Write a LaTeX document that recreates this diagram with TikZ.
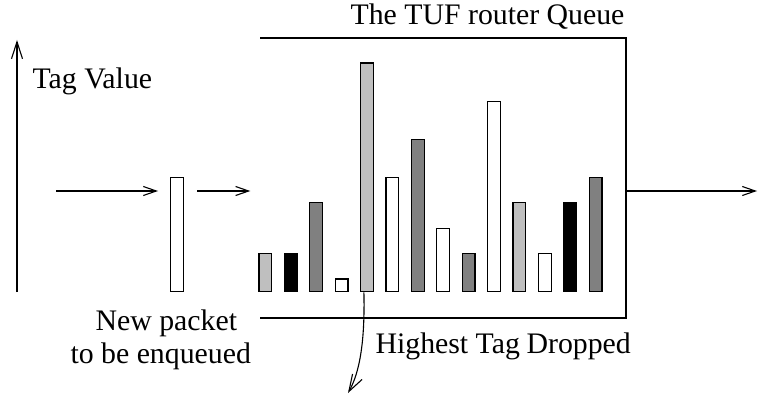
\documentclass[tikz,border=0pt]{standalone}
\usepackage{fontspec}
\setmainfont{Liberation Serif}
\usetikzlibrary{arrows.meta}
\definecolor{barlight}{gray}{0.75}
\definecolor{bardark}{gray}{0.5}

\begin{document}
\begin{tikzpicture}[x=0.5pt,y=-0.5pt,line width=0.55pt,
    font=\fontsize{14.9}{18}\selectfont,
    lbl/.style={inner sep=0pt},
    bar/.style={draw,line width=0.6pt,inner sep=0pt,anchor=south west,
      minimum width=6.4pt,minimum height=#1*6.35pt},
    flow/.style={-{Straight Barb[length=6.5pt,width=4.5pt]}},
    bigflow/.style={-{Straight Barb[length=8.5pt,width=5.5pt]}}]
  \useasboundingbox (0,0) rectangle (758,395);

  \coordinate (axlo) at (17,292);
  \coordinate (axhi) at (17,40);
  \draw[bigflow] (axlo) -- (axhi);
  \node[lbl,anchor=base west] (tagval) at (32,89) {Tag Value};

  \node[bar=9,fill=white] (pkt) at (170,292.3) {};
  \coordinate (in) at (56,191);
  \draw[flow,shorten >=6pt] (in) -- (in -| pkt.west);

  \foreach \h/\c [count=\i] in {3/barlight,3/black,7/bardark,1/white,
      18/barlight,9/white,12/bardark,5/white,3/bardark,15/white,
      7/barlight,3/white,7/black,9/bardark}
    \node[bar=\h,fill=\c] (b\i) at ({258.3+25.4*(\i-1)},292.3) {};

  \draw[flow,shorten <=6.5pt,shorten >=4pt] (in -| pkt.east) -- (in -| b1.west);

  \coordinate (qtl) at (260,38);
  \coordinate (qtr) at (626,38);
  \coordinate (qbr) at (626,318);
  \coordinate (qbl) at (260,318);
  \draw (qtl) -- (qtr) -- (qbr) -- (qbl);
  \node[lbl,anchor=base east] (title) at (625,25) {The TUF router Queue};

  \coordinate (qout) at (626,191);
  \coordinate (out) at (757,191);
  \draw[flow] (qout) -- (out);

  \coordinate (drop) at (348,393);
  \draw[bigflow] ([xshift=2pt]b5.south west) .. controls (365,340) and (360,372) .. (drop);
  \node[lbl,anchor=base west] (highest) at (375,353) {Highest Tag};
  \node[lbl,anchor=base west] (dropped) at (526,353) {Dropped};

  \node[lbl,anchor=base west] (newpkt) at (95,330) {New packet};
  \node[lbl,anchor=base west] (enq) at (70,363) {to be enqueued};
\end{tikzpicture}
\end{document}
